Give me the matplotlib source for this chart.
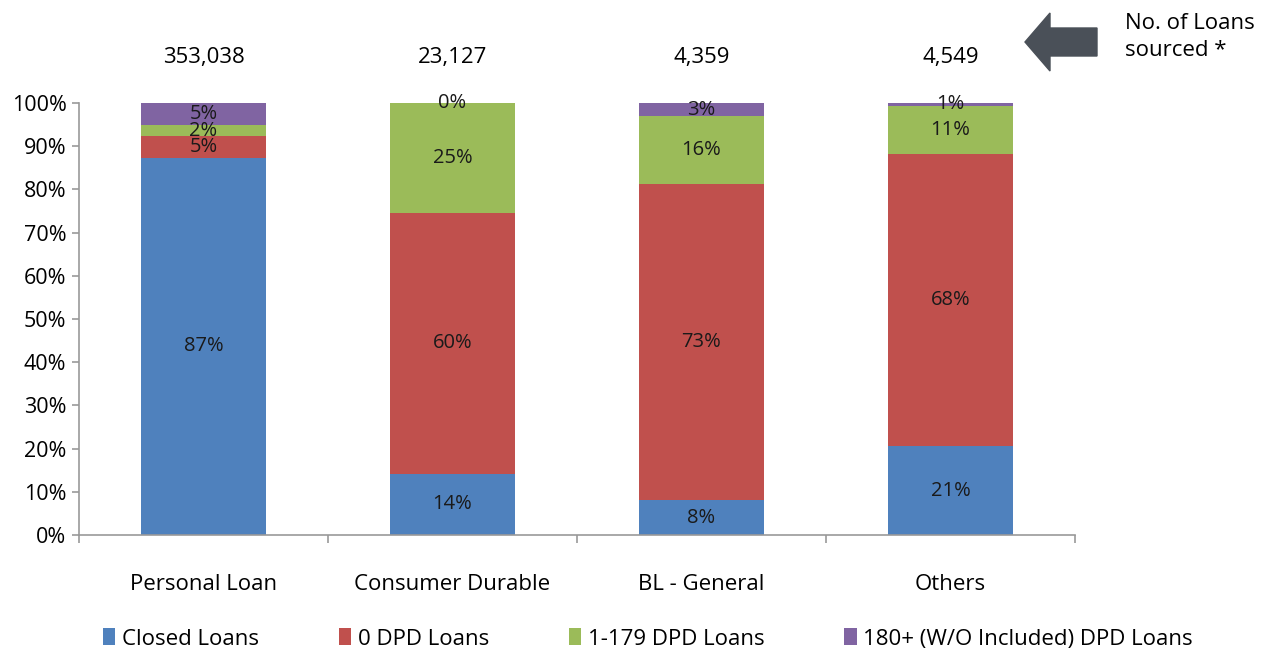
import numpy as np
from matplotlib import pyplot as plt
from matplotlib.patches import Polygon
from matplotlib.transforms import blended_transform_factory

plt.rcParams['font.family'] = ['Open Sans', 'DejaVu Sans']

categories = ['Personal Loan', 'Consumer Durable', 'BL - General', 'Others']
loans_sourced = ['353,038', '23,127', '4,359', '4,549']
series_names = ['Closed Loans', '0 DPD Loans', '1-179 DPD Loans', '180+ (W/O Included) DPD Loans']
closed = [87.3, 14.2, 8.1, 20.6]
dpd0 = [5.1, 60.4, 73.2, 67.6]
dpd1_179 = [2.4, 25.4, 15.6, 11.2]
dpd180 = [5.2, 0.0, 3.1, 0.6]
colors = ['#4F81BD', '#C0504D', '#9BBB59', '#8064A2']

W, H = 1268, 655
fig = plt.figure(figsize=(W / 100, H / 100), dpi=100)
ax = fig.add_axes([79 / W, 1 - 535 / H, (1075 - 79) / W, (535 - 103) / H])

x = np.arange(len(categories))
bottom = np.zeros(len(categories))
for vals, name, col in zip([closed, dpd0, dpd1_179, dpd180], series_names, colors):
    vals = np.array(vals)
    ax.bar(x, vals, 0.5, bottom=bottom, color=col, label=name)
    for xi, b, v in zip(x, bottom, vals):
        ax.text(xi, b + v / 2, '%.0f%%' % v, ha='center', va='center', fontsize=14.5, color='#1a1a1a')
    bottom += vals

ax.set_xlim(-0.5, len(categories) - 0.5)
ax.set_ylim(0, 100)
ax.set_yticks(np.arange(0, 101, 10))
ax.set_yticklabels(['%d%%' % v for v in range(0, 101, 10)], fontsize=15.5)
ax.set_xticks(x)
ax.set_xticklabels(categories, fontsize=16)
ax.set_xticks(np.arange(-0.5, len(categories)), minor=True)
ax.tick_params(axis='x', which='major', length=0, pad=28)
ax.tick_params(axis='x', which='minor', length=6, color='#999999', width=1.2)
ax.tick_params(axis='y', length=5, color='#999999', width=1.2, pad=4)
for s in ['top', 'right']:
    ax.spines[s].set_visible(False)
for s in ['left', 'bottom']:
    ax.spines[s].set_color('#999999')
    ax.spines[s].set_linewidth(1.2)

trans = blended_transform_factory(ax.transData, ax.transAxes)
for xi, n in zip(x, loans_sourced):
    ax.text(xi, 1.106, n, transform=trans, ha='center', va='center', fontsize=16)

# arrow pointing at the loan counts
pts = [(1025, 42), (1050, 13), (1050, 28), (1097, 28), (1097, 56), (1050, 56), (1050, 71)]
arrow = Polygon([(px / W, 1 - py / H) for px, py in pts], closed=True,
                transform=fig.transFigure, color='#4A5058')
fig.add_artist(arrow)
fig.text(1125 / W, 1 - 37 / H, 'No. of Loans\nsourced *', ha='left', va='center',
         fontsize=16, linespacing=1.35)

fig.legend(loc='center', bbox_to_anchor=(0.511, 1 - 639 / H), ncol=4, frameon=False,
           fontsize=16, handlelength=0.55, handleheight=0.8, handletextpad=0.3,
           columnspacing=3.6)

fig.savefig('out.png', dpi=100)
